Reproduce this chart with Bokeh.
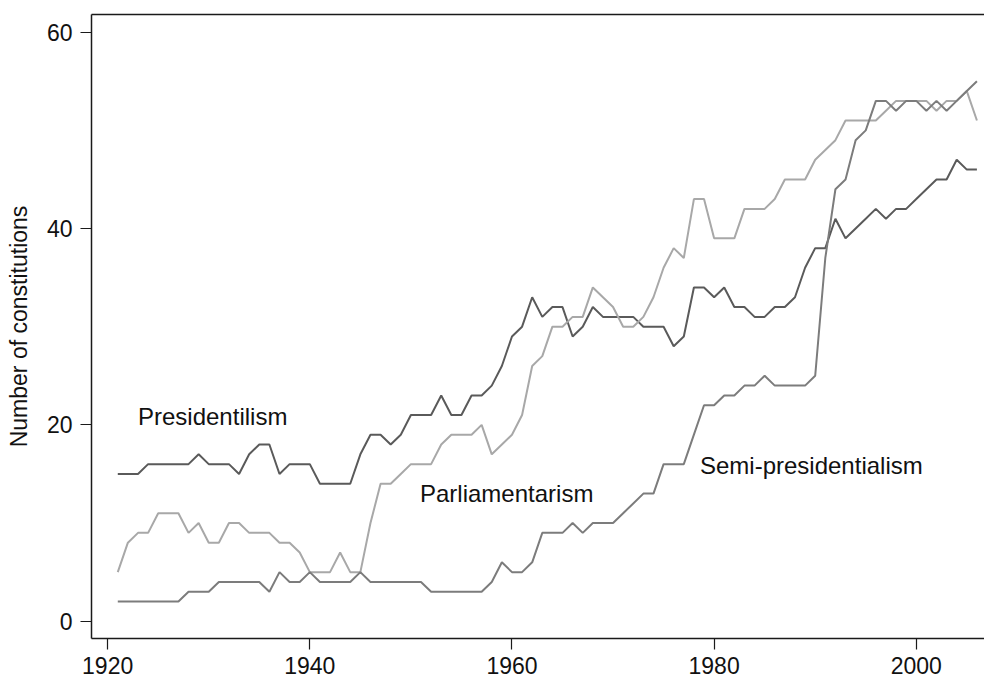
from bokeh.plotting import figure
from bokeh.models import Range1d, FixedTicker, LinearAxis, Label
from bokeh.embed import file_html
from bokeh.resources import INLINE

years = list(range(1921, 2007))

presidentialism = [
    15, 15, 15, 16, 16, 16, 16, 16, 17, 16,
    16, 16, 15, 17, 18, 18, 15, 16, 16, 16,
    14, 14, 14, 14, 17, 19, 19, 18, 19, 21,
    21, 21, 23, 21, 21, 23, 23, 24, 26, 29,
    30, 33, 31, 32, 32, 29, 30, 32, 31, 31,
    31, 31, 30, 30, 30, 28, 29, 34, 34, 33,
    34, 32, 32, 31, 31, 32, 32, 33, 36, 38,
    38, 41, 39, 40, 41, 42, 41, 42, 42, 43,
    44, 45, 45, 47, 46, 46,
]

parliamentarism = [
    5, 8, 9, 9, 11, 11, 11, 9, 10, 8,
    8, 10, 10, 9, 9, 9, 8, 8, 7, 5,
    5, 5, 7, 5, 5, 10, 14, 14, 15, 16,
    16, 16, 18, 19, 19, 19, 20, 17, 18, 19,
    21, 26, 27, 30, 30, 31, 31, 34, 33, 32,
    30, 30, 31, 33, 36, 38, 37, 43, 43, 39,
    39, 39, 42, 42, 42, 43, 45, 45, 45, 47,
    48, 49, 51, 51, 51, 51, 52, 53, 53, 53,
    53, 52, 53, 53, 54, 51,
]

semi_presidentialism = [
    2, 2, 2, 2, 2, 2, 2, 3, 3, 3,
    4, 4, 4, 4, 4, 3, 5, 4, 4, 5,
    4, 4, 4, 4, 5, 4, 4, 4, 4, 4,
    4, 3, 3, 3, 3, 3, 3, 4, 6, 5,
    5, 6, 9, 9, 9, 10, 9, 10, 10, 10,
    11, 12, 13, 13, 16, 16, 16, 19, 22, 22,
    23, 23, 24, 24, 25, 24, 24, 24, 24, 25,
    37, 44, 45, 49, 50, 53, 53, 52, 53, 53,
    52, 53, 52, 53, 54, 55,
]

x_ticks = [1920, 1940, 1960, 1980, 2000]
y_ticks = [0, 20, 40, 60]
y_title = "Number of constitutions"
series_names = ["Presidentilism", "Parliamentarism", "Semi-presidentialism"]

FONT = "Liberation Sans"
AXIS_COLOR = "#1a1a1a"

p = figure(
    width=984, height=684,
    output_backend="svg", toolbar_location=None,
    x_range=Range1d(1918.4, 2006.75),
    y_range=Range1d(-1.76, 61.8),
    min_border_left=91, min_border_right=0,
    min_border_top=14, min_border_bottom=46,
)
p.grid.visible = False
p.outline_line_color = None
p.background_fill_color = "white"
p.border_fill_color = "white"

# data lines
p.line(years, presidentialism, line_color="#5a5a5a", line_width=2)
p.line(years, parliamentarism, line_color="#a8a8a8", line_width=2)
p.line(years, semi_presidentialism, line_color="#7c7c7c", line_width=2)

# x axis
xa = p.xaxis[0]
xa.ticker = FixedTicker(ticks=x_ticks)
xa.major_tick_out = 11
xa.major_tick_in = 0
xa.minor_tick_line_color = None
xa.axis_line_color = AXIS_COLOR
xa.axis_line_width = 1.5
xa.major_tick_line_color = AXIS_COLOR
xa.major_tick_line_width = 1.2
xa.major_label_text_font = FONT
xa.major_label_text_font_size = "23px"
xa.major_label_text_color = "#111111"
xa.major_label_standoff = 7

# y axis
ya = p.yaxis[0]
ya.ticker = FixedTicker(ticks=y_ticks)
ya.major_tick_out = 11
ya.major_tick_in = 0
ya.minor_tick_line_color = None
ya.axis_line_color = AXIS_COLOR
ya.axis_line_width = 1.5
ya.major_tick_line_color = AXIS_COLOR
ya.major_tick_line_width = 1.2
ya.major_label_text_font = FONT
ya.major_label_text_font_size = "23px"
ya.major_label_text_color = "#111111"
ya.major_label_standoff = 8
ya.major_label_orientation = "horizontal"
ya.axis_label = y_title
ya.axis_label_text_font = FONT
ya.axis_label_text_font_size = "23px"
ya.axis_label_text_font_style = "normal"
ya.axis_label_text_color = "#111111"
ya.axis_label_standoff = 12

# top border line
top = LinearAxis(ticker=FixedTicker(ticks=[]), axis_line_color=AXIS_COLOR,
                 axis_line_width=1.5, major_tick_line_color=None,
                 minor_tick_line_color=None)
p.add_layout(top, "above")

# series labels
label_pos = [(1923.0, 20.85), (1950.9, 13.0), (1978.6, 15.9)]
for name, (lx, ly) in zip(series_names, label_pos):
    p.add_layout(Label(x=lx, y=ly, text=name, text_font=FONT,
                       text_font_size="24px", text_color="#111111",
                       text_baseline="alphabetic", text_align="left"))

open("out.html", "w").write(file_html(p, INLINE))
